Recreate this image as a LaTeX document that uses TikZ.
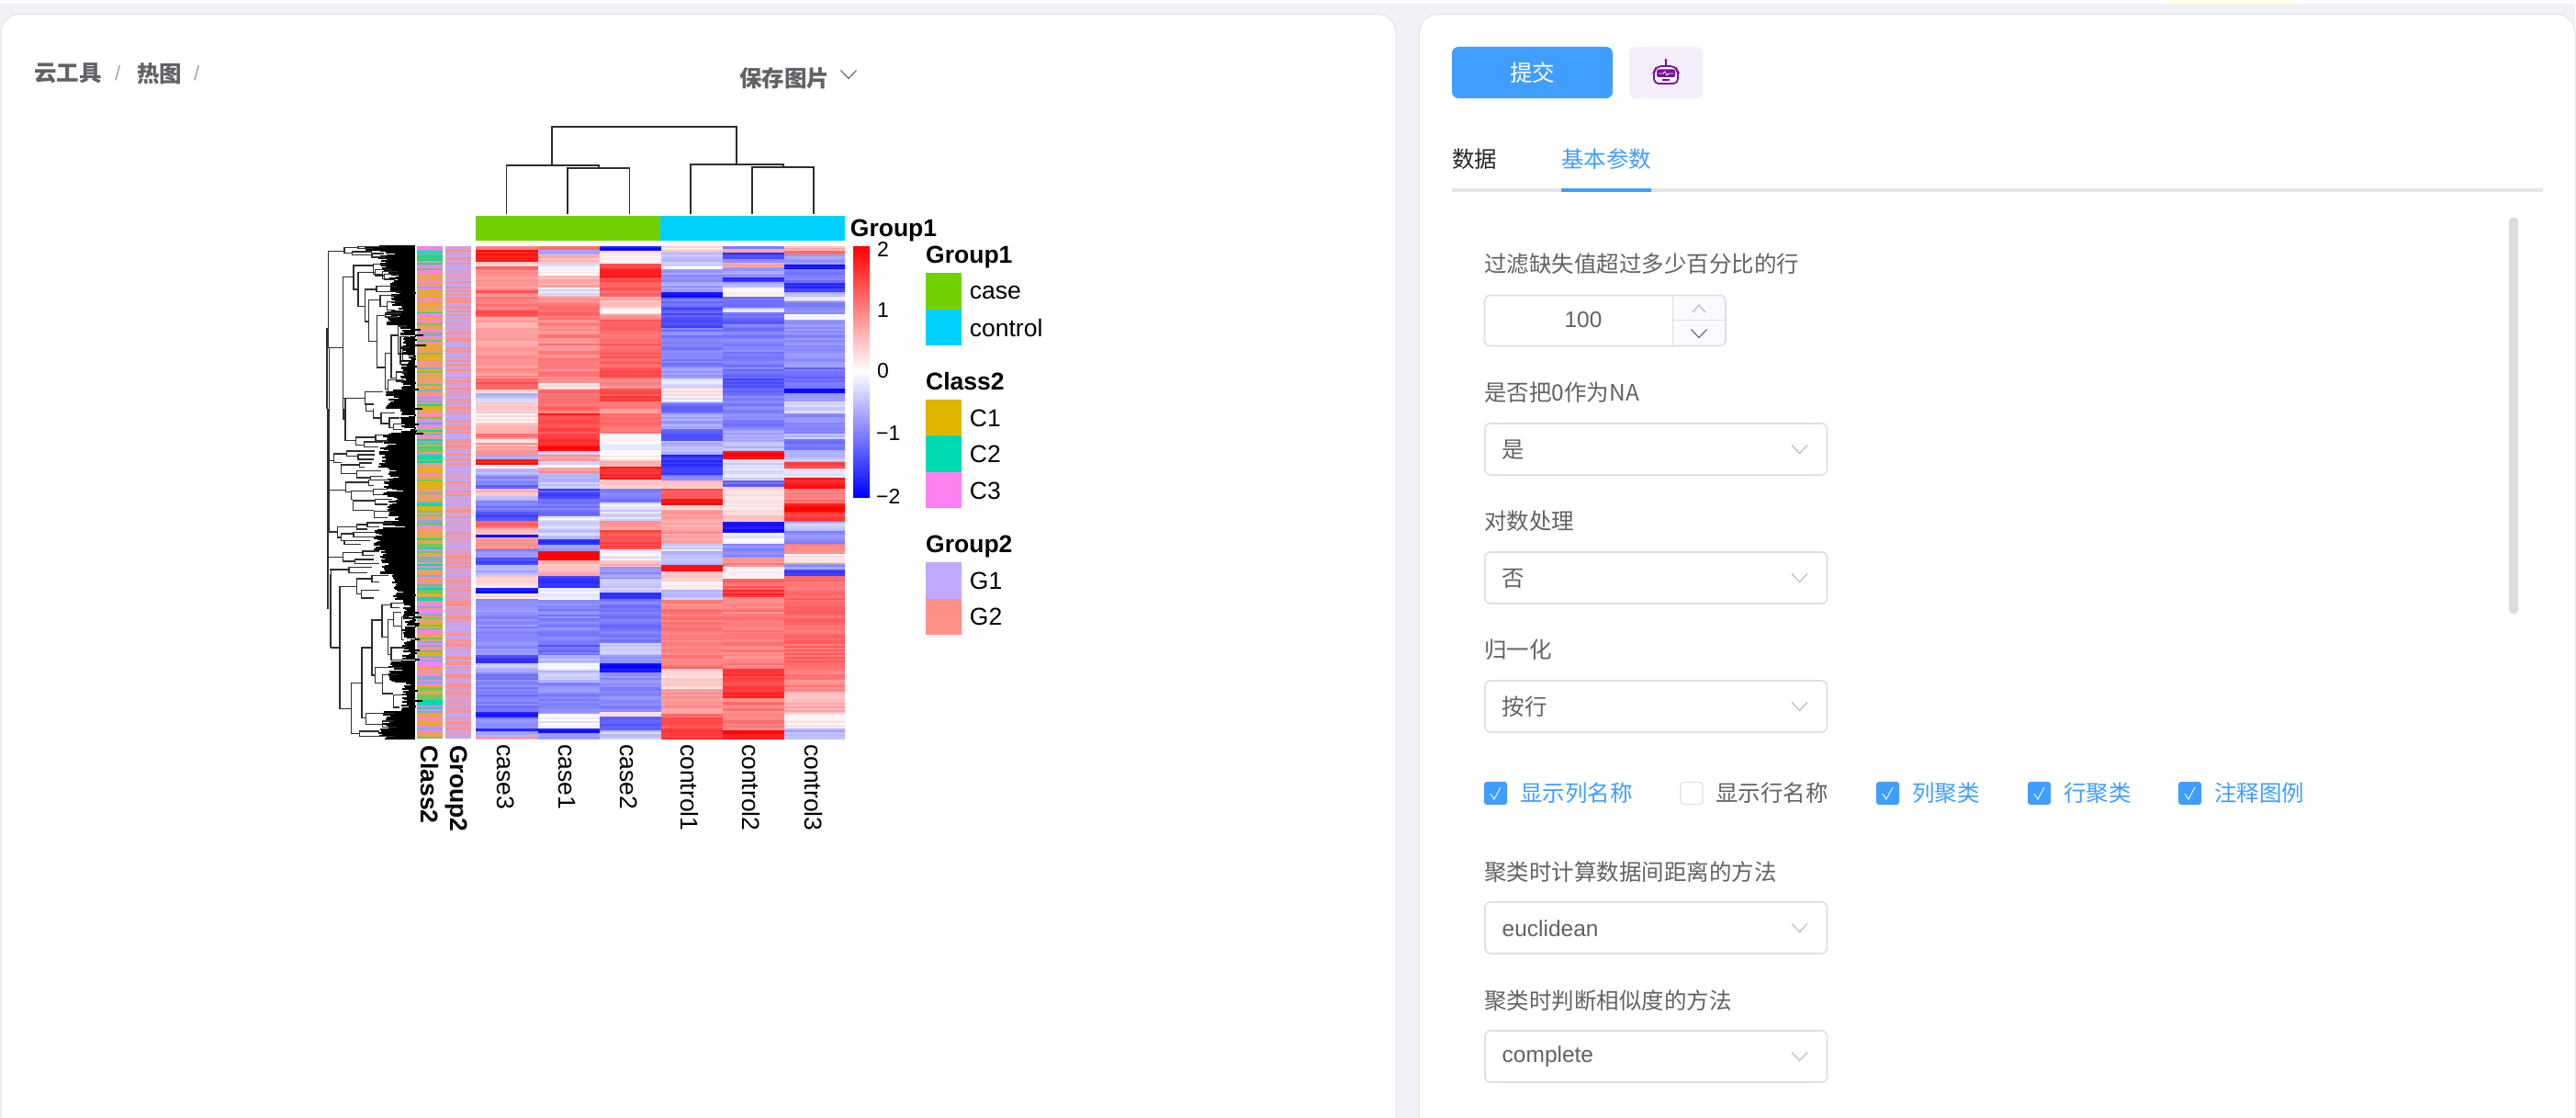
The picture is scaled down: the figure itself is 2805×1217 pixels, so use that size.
\documentclass[tikz,border=0pt]{standalone}
\usepackage{fontspec}
\setmainfont{Liberation Sans}
\newfontfamily\cjk{Noto Sans CJK SC}
\definecolor{bgc}{HTML}{F0F2F5}
\definecolor{edgec}{HTML}{E2E5EA}
\definecolor{blu}{HTML}{409EFF}
\definecolor{txt}{HTML}{606266}
\definecolor{bord}{HTML}{DCDFE6}
\definecolor{chv}{HTML}{B4B8C0}
\definecolor{caseC}{HTML}{72D000}
\definecolor{ctrlC}{HTML}{00D2FF}
\definecolor{cA}{HTML}{E1B400}
\definecolor{cB}{HTML}{00DAB0}
\definecolor{cC}{HTML}{FF80F0}
\definecolor{gA}{HTML}{BFA8FF}
\definecolor{gB}{HTML}{FF9088}
\definecolor{robo}{HTML}{7A0F9E}
\definecolor{robobg}{HTML}{F4EEFD}
\newcommand\fs[1]{\fontsize{#1}{#1}\selectfont}
\newcommand\mkbr[5]{\draw[dline] (#3,#2)--(#1,#2)--(#1,#4)--(#5,#4);}
\newcommand\chev[3]{\draw[#3,line width=1.1pt] (#1-8.5,#2-4.5)--(#1,#2+4.5)--(#1+8.5,#2-4.5);}
\newcommand\chevup[3]{\draw[#3,line width=1.1pt] (#1-7,#2+4)--(#1,#2-4)--(#1+7,#2+4);}
\newcommand\hcol[3]{%
  \foreach \ya/\yb/\v in {#3}{%
    \pgfmathsetmacro\yn{\ya+2}%
    \foreach \y in {\ya,\yn,...,\yb}{%
      \pgfmathsetmacro\val{\v+0.34*(rnd-0.5)}%
      \pgfmathsetmacro\pc{min(100,abs(\val)*50)}%
      \ifdim\val pt>0pt \def\hc{red}\else\def\hc{blue}\fi
      \fill[fill=\hc!\pc!white] (#1,\y) rectangle (#2,\y+2.4);
    }%
  }%
}
\newcommand\selectbox[4]{%
  \draw[boxline,fill=white,rounded corners=6pt] (1617,#1) rectangle (1989.5,#1+56);
  \node[uitxt,\if#4l\cjk\else\fi] (#2) at (1635.5,#1+28.5) {#3};
  \chev{1959.5}{#1+28}{chv}
}
\newcommand\ckon[3]{%
  \fill[blu,rounded corners=3pt] (#1,851) rectangle (#1+25,876);
  \draw[white,line width=0.9pt] (#1+7,864)--(#1+11,870)--(#1+18,857);
  \node[uitxt,text=blu,font=\cjk\fs{24.5}] (#3) at (#1+39,863.5) {#2};
}
\tikzset{
  x=1pt,y=-1pt,
  dline/.style={line width=1.4pt,draw=black!82,line join=miter},
  uitxt/.style={anchor=west,inner sep=0pt,text=txt,font=\fs{24.5}},
  cjktxt/.style={anchor=west,inner sep=0pt,text=txt,font=\cjk\fs{24.5}},
  legt/.style={anchor=base west,inner sep=0pt,font=\bfseries\fs{26.5}},
  legl/.style={anchor=west,inner sep=0pt,font=\fs{26.5}},
  vlab/.style={anchor=base west,rotate=-90,inner sep=0pt,font=\fs{26.5}},
  vlabb/.style={anchor=base west,rotate=-90,inner sep=0pt,font=\bfseries\fs{26.5}},
  tick/.style={anchor=west,inner sep=0pt,font=\fs{23}},
  boxline/.style={draw=bord,line width=1.6pt}
}
\begin{document}
\begin{tikzpicture}
\useasboundingbox (0,0) rectangle (2805,1217);
\pgfmathsetseed{11}
% page and panels
\fill[white] (0,0) rectangle (2805,1217);
\fill[bgc] (0,4) rectangle (2805,1217);
\fill[white,opacity=0.9] (2804,0) rectangle (2805,1217);
\fill[yellow!10!white] (2360,0) rectangle (2495,4);
\filldraw[fill=white,draw=edgec,line width=1pt,rounded corners=20pt] (1,1218)--(1,15.5)--(1520,15.5)--(1520,1218);
\filldraw[fill=white,draw=edgec,line width=1pt,rounded corners=20pt] (1545.5,1218)--(1545.5,15.5)--(2804,15.5)--(2804,1218);
% breadcrumb
\node[cjktxt,font=\cjk\bfseries\fs{24.5}] (bc1) at (37,80) {云工具};
\node[anchor=west,inner sep=0pt,text=black!35,font=\fs{22}] (bs1) at (125,80) {/};
\node[cjktxt,font=\cjk\bfseries\fs{24.5}] (bc2) at (149,80) {热图};
\node[anchor=west,inner sep=0pt,text=black!35,font=\fs{22}] (bs2) at (211,80) {/};
\node[cjktxt,font=\cjk\bfseries\fs{24.5}] (savebtn) at (805,85) {保存图片};
\chev{924}{81}{txt}
% heatmap
\begin{scope}
\clip (518,268) rectangle (920,804);
\hcol{518}{586}{268/272/0.9,272/285/1.85,285/290/0.4,290/294/1.2,294/316/0.8,316/319/1.5,319/323/0.9,323/337/1.1,337/345/1.4,345/377/0.7,377/412/0.85,412/424/1.3,424/428/0.3,428/432/-0.5,432/438/-0.3,438/450/0.5,450/460/0.15,460/472/0.6,472/478/1.0,478/482/0.3,482/490/0.7,490/495/0.7,495/500/-0.5,500/506/1.8,506/510/0.2,510/517/-0.5,517/528/-0.9,528/532/-1.3,532/540/0.6,540/545/-0.6,545/557/-1,557/567/-1.4,567/575/1.1,575/582/0.5,582/585/-1.8,585/598/0.9,598/607/-0.9,607/615/-1.5,615/627/-0.6,627/640/0.3,640/646/-1.9,646/652/0.3,652/713/-0.88,713/722/-1.5,722/732/-0.5,732/775/-1.0,775/781/-1.8,781/793/-0.9,793/796/-1.7,796/802/-0.6,802/804/0.7}
\hcol{586}{653}{268/272/1.2,272/277/-0.6,277/287/0.6,287/294/-0.2,294/300/0.1,300/313/0.7,313/322/-0.2,322/330/0.8,330/340/1.1,340/348/1.1,348/417/0.95,417/424/0.2,424/450/1.1,450/452/1.9,452/477/1.4,477/485/1.6,485/491/2,491/495/-0.3,495/502/0.8,502/509/-0.2,509/515/0.8,515/532/-0.5,532/543/-1.4,543/562/-1,562/567/-0.1,567/587/-0.4,587/593/-1.7,593/600/-0.7,600/610/2,610/627/0.6,627/640/-1.6,640/653/-0.15,653/700/-0.95,700/713/-1.2,713/722/-0.5,722/730/-0.15,730/743/-0.5,743/777/-0.9,777/793/-0.15,793/798/-1.8,798/804/-0.7}
\hcol{653}{720}{268/273/-1.9,273/277/0.3,277/287/0.05,287/292/1.4,292/303/1.7,303/315/1.3,315/323/1.2,323/335/0.6,335/342/0.15,342/348/0.8,348/400/1.2,400/412/1.4,412/423/0.9,423/437/1.4,437/450/0.9,450/472/1.1,472/482/0.12,482/490/-0.2,490/500/0.1,500/508/0.5,508/522/1.7,522/532/0.5,532/547/-1.0,547/553/-0.2,553/567/-0.3,567/577/0.7,577/590/1.4,590/598/1.5,598/610/-0.2,610/617/0.5,617/630/-0.8,630/645/-0.4,645/652/-1.6,652/700/-1.05,700/713/-0.4,713/722/-0.8,722/732/-1.9,732/775/-0.9,775/780/0.3,780/795/-1.2,795/804/-0.4}
\hcol{720}{787}{268/273/0.3,273/290/-0.5,290/293/0.05,293/307/-0.8,307/318/-0.7,318/324/-1.8,324/333/-1.1,333/357/-1.35,357/400/-1.0,400/412/-0.7,412/423/-0.3,423/433/0.2,433/438/-0.2,438/450/-1.1,450/467/-0.7,467/480/-1.3,480/495/-0.6,495/517/-1.6,517/523/-0.9,523/532/0.5,532/543/1.3,543/550/1.9,550/555/0.3,555/577/0.7,577/592/0.8,592/600/-0.3,600/615/-0.5,615/622/2,622/633/0.4,633/642/0.08,642/653/-0.5,653/720/1.0,720/728/1.1,728/750/0.3,750/777/0.8,777/793/1.3,793/804/1.5}
\hcol{787}{854}{268/271/-0.9,271/275/0.8,275/282/-1.5,282/286/-0.8,286/291/0.7,291/302/-0.8,302/307/-1.6,307/313/-0.7,313/323/0.05,323/335/-1,335/340/-0.3,340/353/-1.2,353/400/-1.0,400/410/-1.1,410/427/-1.3,427/467/-1.0,467/480/-0.7,480/491/-0.5,491/500/1.9,500/523/-0.3,523/530/-1.2,530/560/0.3,560/568/0.5,568/580/-1.9,580/592/-0.15,592/607/-0.9,607/617/0.9,617/630/0.05,630/642/1.2,642/650/1.6,650/728/1.0,728/752/1.5,752/760/1.7,760/795/1.0,795/804/1.8}
\hcol{854}{921}{268/273/0.6,273/277/1.2,277/288/-0.8,288/293/-1.9,293/308/-1.0,308/318/-1.6,318/323/-0.6,323/328/-0.3,328/342/-1,342/348/-0.15,348/400/-0.9,400/423/-1.1,423/428/-1.8,428/437/-0.8,437/450/-0.4,450/472/-0.9,472/478/-0.5,478/490/-1.1,490/503/-0.5,503/510/1.4,510/520/-0.1,520/532/1.8,532/548/1,548/557/1.9,557/568/1.5,568/578/-0.5,578/592/-0.9,592/603/0.9,603/613/0.1,613/620/-0.8,620/627/-1.6,627/730/1.15,730/753/0.95,753/777/0.6,777/793/0.1,793/804/-0.6}
\end{scope}
% annotation strips
\fill[caseC] (518,235) rectangle (719,262);
\fill[ctrlC] (719,235) rectangle (920,262);
\foreach \y in {268,270,...,802}{
  \pgfmathrandominteger{\k}{1}{9}
  \ifcase\k\or\def\cc{cA}\or\def\cc{cC}\or\def\cc{cB!50!cA}\or\def\cc{cA!50!cC}\or\def\cc{cC}\or\def\cc{cB!50!cC}\or\def\cc{cA!50!cC}\or\def\cc{cA!70!cC}\or\def\cc{cB}\fi
  \fill[fill=\cc] (454,\y) rectangle (482,\y+2.3);
  \pgfmathrandominteger{\m}{1}{5}
  \ifcase\m\or\def\dd{gA}\or\def\dd{gB}\or\def\dd{gA!50!gB}\or\def\dd{gA!50!gB}\or\def\dd{gA!70!gB}\fi
  \fill[fill=\dd] (485,\y) rectangle (513,\y+2.3);
}
\fill[cB] (454,277) rectangle (482,281);
\fill[cB] (454,762) rectangle (482,768);
\fill[cA] (454,551) rectangle (482,556);
\fill[cC] (454,341) rectangle (482,346);
% row dendrogram: dense leaves
\foreach \ya/\yb/\xl in {268/272/397,272/287/412,287/298/414,298/310/424,310/322/424,322/340/426,340/353/420,353/425/436,425/445/420,445/472/436,472/488/417,488/508/412,508/525/422,525/542/417,542/568/422,568/577/417,577/600/407,600/625/414,625/652/427,652/720/438,720/742/422,742/775/436,775/792/417,792/804/412}{
  \pgfmathsetmacro\yn{\ya+1}
  \foreach \y in {\ya,\yn,...,\yb}{
    \pgfmathsetmacro\xs{\xl+rnd*rnd*30}
    \draw[black,line width=1.2pt] (\xs,\y)--(452,\y);
  }
}
% column dendrogram
\draw[dline] (601,180)--(601,138)--(802,138)--(802,179);
\draw[dline] (551.5,233)--(551.5,180)--(652,180)--(652,183);
\draw[dline] (618,233)--(618,183)--(685.5,183)--(685.5,233);
\draw[dline] (752,233)--(752,179)--(853,179)--(853,182);
\draw[dline] (819,233)--(819,182)--(886,182)--(886,233);
\begin{scope}[x=0.3333pt,y=-0.3333pt,shift={(350pt,-265pt)}]
\draw[dline,line width=2pt] (19,275)--(19,540);
\mkbr{22}{25}{75}{340}{70}
\mkbr{75}{13}{120}{32}{100}
\mkbr{120}{10}{210}{17}{170}
\mkbr{100}{27}{165}{38}{165}
\mkbr{165}{33}{205}{45}{210}
\draw[dline] (25,340)--(25,540);
\draw[dline] (70,110)--(70,540);
\mkbr{105}{72}{170}{150}{120}
\draw[dline] (70,110)--(105,110);
\mkbr{170}{68}{215}{100}{200}
\mkbr{200}{92}{250}{115}{225}
\mkbr{120}{95}{175}{205}{143}
\mkbr{175}{85}{230}{105}{205}
\mkbr{205}{100}{255}{118}{240}
\mkbr{143}{150}{180}{255}{155}
\mkbr{180}{140}{245}{158}{260}
\mkbr{155}{185}{192}{320}{182}
\mkbr{192}{170}{245}{205}{215}
\mkbr{215}{190}{260}{218}{240}
\mkbr{182}{235}{208}{405}{208}
\mkbr{208}{228}{260}{240}{250}
\mkbr{208}{358}{228}{475}{218}
\mkbr{228}{300}{250}{440}{245}
\mkbr{250}{270}{278}{360}{258}
\mkbr{258}{305}{285}{395}{265}
\mkbr{265}{340}{290}{385}{285}
\mkbr{245}{420}{280}{450}{270}
\mkbr{218}{445}{270}{490}{240}
\mkbr{78}{505}{143}{540}{78}
\mkbr{143}{485}{200}{525}{170}
\draw[dline] (70,505)--(78,505);
\end{scope}
\begin{scope}[x=0.3333pt,y=-0.3333pt,shift={(350pt,-445pt)}]
\draw[dline,line width=2pt] (22,0)--(22,540);
\draw[dline] (25,0)--(25,402);
\draw[dline] (72,0)--(72,35);
\mkbr{78}{0}{78}{103}{113}
\mkbr{113}{93}{177}{118}{140}
\mkbr{177}{85}{225}{105}{220}
\mkbr{140}{108}{200}{125}{185}
\mkbr{170}{0}{170}{30}{195}
\mkbr{145}{-15}{145}{8}{170}
\mkbr{195}{14}{240}{48}{222}
\mkbr{222}{30}{255}{62}{235}
\mkbr{235}{50}{270}{68}{265}
\mkbr{40}{147}{82}{175}{65}
\draw[dline] (22,170)--(40,170);
\mkbr{82}{138}{175}{155}{120}
\mkbr{120}{150}{175}{165}{170}
\mkbr{65}{183}{125}{212}{115}
\mkbr{125}{177}{165}{190}{140}
\mkbr{115}{203}{195}{225}{160}
\mkbr{160}{220}{200}{232}{200}
\draw[dline] (25,265)--(80,265);
\mkbr{80}{240}{155}{272}{98}
\mkbr{155}{233}{230}{250}{170}
\mkbr{98}{268}{170}{295}{103}
\mkbr{170}{262}{215}{280}{200}
\mkbr{103}{300}{175}{332}{172}
\mkbr{175}{295}{230}{312}{215}
\mkbr{172}{335}{240}{355}{215}
\draw[dline] (25,402)--(52,402);
\mkbr{52}{385}{115}{420}{65}
\mkbr{115}{378}{150}{393}{150}
\mkbr{150}{372}{230}{385}{190}
\mkbr{65}{408}{105}{430}{75}
\mkbr{105}{403}{190}{418}{180}
\mkbr{75}{430}{160}{442}{130}
\draw[dline] (22,485)--(70,485);
\mkbr{70}{470}{135}{498}{110}
\mkbr{135}{465}{190}{478}{170}
\mkbr{110}{492}{170}{505}{190}
\draw[dline] (28,525)--(90,525);
\draw[dline] (32,525)--(32,540);
\mkbr{90}{518}{165}{535}{150}
\end{scope}
\begin{scope}[x=0.3333pt,y=-0.3333pt,shift={(350pt,-625pt)}]
\draw[dline,line width=2pt] (22,0)--(22,115);
\draw[dline] (30,0)--(30,240);
\draw[dline] (30,240)--(60,240);
\mkbr{60}{40}{115}{440}{98}
\mkbr{115}{15}{165}{65}{130}
\mkbr{165}{5}{220}{25}{190}
\mkbr{130}{52}{190}{78}{172}
\mkbr{98}{355}{132}{520}{125}
\mkbr{132}{240}{165}{470}{145}
\mkbr{165}{150}{198}{330}{175}
\mkbr{198}{100}{228}{205}{218}
\mkbr{228}{95}{270}{110}{255}
\mkbr{218}{148}{236}{262}{228}
\mkbr{236}{125}{260}{170}{262}
\mkbr{262}{140}{285}{215}{270}
\mkbr{228}{240}{280}{280}{265}
\mkbr{175}{305}{208}{355}{200}
\draw[dline] (208,305)--(265,305);
\mkbr{200}{328}{250}{390}{235}
\mkbr{235}{395}{275}{435}{255}
\mkbr{145}{455}{240}{490}{200}
\mkbr{200}{480}{235}{500}{245}
\mkbr{125}{513}{190}{530}{165}
\draw[dline] (165,530)--(240,530);
\end{scope}
% colour bar
\shade[top color=red,bottom color=white] (929,268) rectangle (947,404);
\shade[top color=white,bottom color=blue] (929,404) rectangle (947,541);
\node[tick] (t2) at (955,271) {2};
\node[tick] (t1) at (955,338) {1};
\node[tick] (t0) at (955,404) {0};
\node[tick] (tm1) at (954,472) {−1};
\node[tick] (tm2) at (954,540) {−2};
% legends
\node[legt] (annG1) at (925.7,257.7) {Group1};
\node[legt] (lgG1) at (1008,286.7) {Group1};
\fill[caseC] (1008,297.3) rectangle (1047,336.7);
\fill[ctrlC] (1008,336.7) rectangle (1047,375.7);
\node[legl] (lcase) at (1055.7,318) {case};
\node[legl] (lctrl) at (1055.7,357) {control};
\node[legt] (lgC2) at (1008,424) {Class2};
\fill[cA] (1008,435) rectangle (1047,474.3);
\fill[cB] (1008,474.3) rectangle (1047,513.7);
\fill[cC] (1008,513.7) rectangle (1047,553);
\node[legl] (lc1) at (1055.7,455) {C1};
\node[legl] (lc2) at (1055.7,494) {C2};
\node[legl] (lc3) at (1055.7,534) {C3};
\node[legt] (lgG2) at (1008,601.7) {Group2};
\fill[gA] (1008,612.3) rectangle (1047,651.7);
\fill[gB] (1008,651.7) rectangle (1047,691);
\node[legl] (lg1) at (1055.7,632) {G1};
\node[legl] (lg2) at (1055.7,671) {G2};
% bottom labels
\node[vlabb] (vC2) at (458,811) {Class2};
\node[vlabb] (vG2) at (490,811) {Group2};
\node[vlab] (vc3) at (541,810) {case3};
\node[vlab] (vc1) at (608,810) {case1};
\node[vlab] (vc2) at (675,810) {case2};
\node[vlab] (vk1) at (741,810) {control1};
\node[vlab] (vk2) at (808.5,810) {control2};
\node[vlab] (vk3) at (876,810) {control3};
% right panel
\fill[blu,rounded corners=7pt] (1581,51) rectangle (1756,107);
\node[inner sep=0pt,text=white,font=\cjk\fs{24.5}] (submit) at (1668.5,79) {提交};
\fill[robobg,rounded corners=7pt] (1774,51) rectangle (1854,107);
% robot icon
\draw[robo,line width=1.6pt] (1814,65)--(1814,72);
\fill[robo] (1814,65.5) circle (1.6pt);
\filldraw[fill=white,draw=robo,line width=1.8pt,rounded corners=5pt] (1804,72)--(1824,72)--(1827,78)--(1827,91)--(1801,91)--(1801,78)--cycle;
\fill[robo,rounded corners=2pt] (1804,75.5) rectangle (1824,84);
\draw[white,line width=0.8pt] (1806,80)--(1811,80)--(1813,78)--(1815,82)--(1817,80)--(1822,80);
\fill[robo] (1810,86.5) rectangle (1818,88.5);
% tabs
\node[cjktxt,text=black!85] (tab1) at (1581,173) {数据};
\node[cjktxt,text=blu] (tab2) at (1700,173) {基本参数};
\fill[edgec] (1581,205) rectangle (2769,209);
\fill[blu] (1700,205) rectangle (1798,209);
% scrollbar
\fill[black!14,rounded corners=4.5pt] (2732,236.5) rectangle (2742,668);
% form
\node[cjktxt] (lb1) at (1616,287) {过滤缺失值超过多少百分比的行};
\fill[blue!2!white] (1821.5,322) rectangle (1878,376);
\draw[boxline,rounded corners=6pt] (1616.5,321.5) rectangle (1879,376.5);
\draw[bord,line width=1pt] (1821.5,322)--(1821.5,376);
\draw[bord,line width=1pt] (1821.5,348.5)--(1878,348.5);
\node[inner sep=0pt,text=txt,font=\fs{24.5}] (num) at (1724,348) {100};
\chevup{1850}{336}{chv}
\chev{1850}{363}{txt}
\node[cjktxt] (lb2) at (1616,427) {是否把0作为NA};
\selectbox{461}{s1}{\cjk 是}{x}
\node[cjktxt] (lb3) at (1616,567) {对数处理};
\selectbox{601}{s2}{\cjk 否}{x}
\node[cjktxt] (lb4) at (1616,707) {归一化};
\selectbox{741}{s3}{\cjk 按行}{x}
\ckon{1616}{显示列名称}{ck1}
\draw[boxline,line width=1.2pt,fill=white,rounded corners=3pt] (1830,851.5) rectangle (1854,875.5);
\node[cjktxt] (ck2) at (1868,863.5) {显示行名称};
\ckon{2043}{列聚类}{ck3}
\ckon{2208}{行聚类}{ck4}
\ckon{2372}{注释图例}{ck5}
\node[cjktxt] (lb5) at (1616,949) {聚类时计算数据间距离的方法};
\selectbox{982}{s4}{euclidean}{x}
\node[cjktxt] (lb6) at (1616,1089) {聚类时判断相似度的方法};
\selectbox{1122}{s5}{complete}{x}
\end{tikzpicture}
\end{document}
